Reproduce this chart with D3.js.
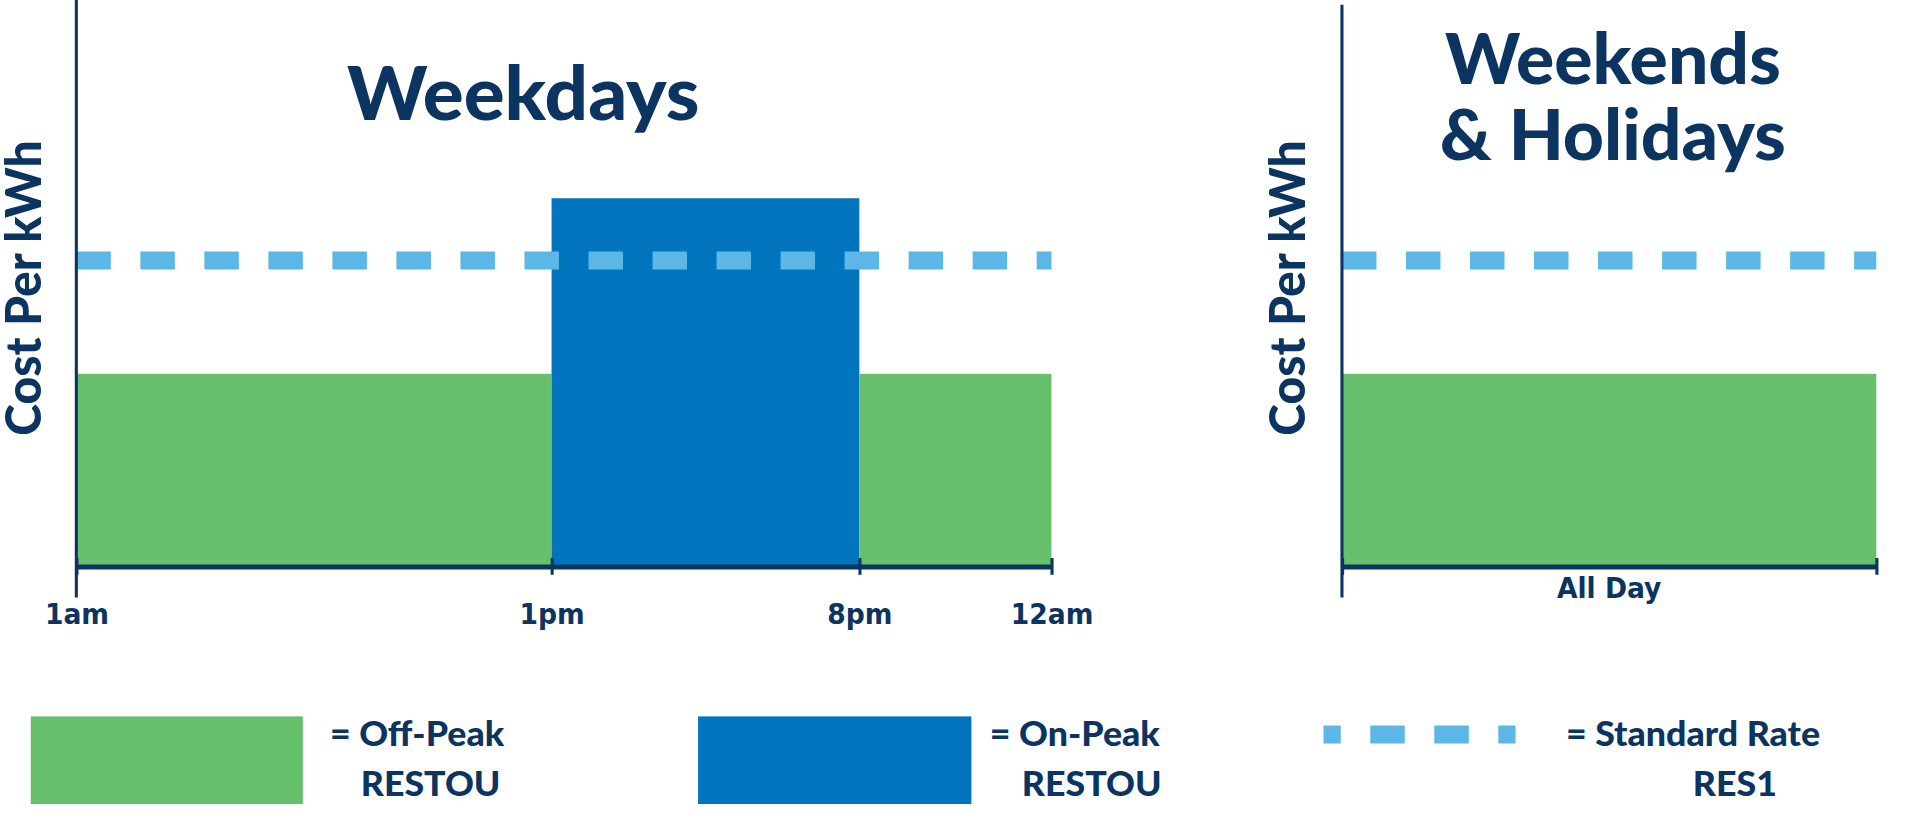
<!DOCTYPE html><html><head><meta charset="utf-8">
<script src="https://cdn.jsdelivr.net/npm/d3@7"></script>
<style>body{margin:0;background:#fff}</style></head><body>
<script>
const hours=[1,13,20,24];
const tickLabels=["1am","1pm","8pm","12am"];
const weekdayBlocks=[{from:1,to:13,type:"off"},{from:13,to:20,type:"on"},{from:20,to:24,type:"off"}];
const rates={off:0.34,on:0.65,standard:0.54};
const weekendLabel="All Day";
const legendItems=[["= Off-Peak","RESTOU"],["= On-Peak","RESTOU"],["= Standard Rate","RES1"]];

const navy="#0b3461",green="#66bf6a",blue="#0075bd",light="#5cb7e6";
const kx=1928/1566, ky=828/690;
const svg=d3.select("body").append("svg").attr("width",1928).attr("height",828);
const g=svg.append("g").attr("transform",`scale(${kx},${ky})`);
const base=472;
const y=d3.scaleLinear().domain([0,1]).range([base,0]);
const x=d3.scaleLinear().domain(hours).range([62,448,698,854]);
const x2=d3.scaleLinear().domain([0,1]).range([1090,1524]);
const font="Lato, 'Open Sans', sans-serif";
const narrow="'Liberation Sans Narrow','DejaVu Sans Condensed',sans-serif";

g.selectAll("rect.wd").data(weekdayBlocks).join("rect")
 .attr("x",d=>x(d.from)).attr("width",d=>x(d.to)-x(d.from))
 .attr("y",d=>y(rates[d.type])).attr("height",d=>base-y(rates[d.type]))
 .attr("fill",d=>d.type==="on"?blue:green);
g.append("rect").attr("x",x2(0)).attr("width",x2(1)-x2(0)).attr("y",y(rates.off)).attr("height",base-y(rates.off)).attr("fill",green);

function dash(x0,x1){g.append("line").attr("x1",x0).attr("x2",x1).attr("y1",y(rates.standard)).attr("y2",y(rates.standard))
 .attr("stroke",light).attr("stroke-width",15).attr("stroke-dasharray","28 24");}
dash(x(1),x(24)); dash(x2(0),x2(1));

g.append("g").attr("transform",`translate(0,${base})`).call(d3.axisBottom(x).tickValues(hours).tickFormat((d,i)=>tickLabels[i]).tickSize(14).tickSizeOuter(0))
 .call(a=>{a.select(".domain").attr("stroke",navy).attr("stroke-width",4);
  a.selectAll(".tick line").attr("stroke",navy).attr("stroke-width",2.5).attr("transform","translate(0,-7)");
  a.selectAll("text").attr("fill",navy).attr("font-family",narrow).attr("font-weight",700).attr("font-size",24).attr("dy","1.3em");});
g.append("line").attr("x1",62).attr("x2",62).attr("y1",0).attr("y2",base+26).attr("stroke",navy).attr("stroke-width",2.5);
g.append("g").attr("transform",`translate(0,${base})`).call(d3.axisBottom(x2).tickValues([0,1]).tickFormat("").tickSize(14).tickSizeOuter(0))
 .call(a=>{a.select(".domain").attr("stroke",navy).attr("stroke-width",4);
  a.selectAll(".tick line").attr("stroke",navy).attr("stroke-width",2.5).attr("transform","translate(0,-7)");});
g.append("line").attr("x1",1090).attr("x2",1090).attr("y1",4).attr("y2",base+26).attr("stroke",navy).attr("stroke-width",2.5);
g.append("text").attr("x",x2(0.5)).attr("y",498).attr("text-anchor","middle").attr("fill",navy).attr("font-family",narrow).attr("font-weight",700).attr("font-size",24).text(weekendLabel);

const t=(tx,ty,s,txt)=>g.append("text").attr("x",tx).attr("y",ty).attr("text-anchor","middle").attr("fill",navy).attr("font-family",font).attr("font-weight",900).attr("font-size",s).text(txt);
t(425,100,62,"Weekdays");
t(1310,70,58,"Weekends");
t(1310,133,58,"& Holidays");
[33,1060].forEach(cx=>g.append("text").attr("transform",`translate(${cx},240) rotate(-90)`).attr("text-anchor","middle")
 .attr("fill",navy).attr("font-family",font).attr("font-weight",900).attr("font-size",40).text("Cost Per kWh"));

g.append("rect").attr("x",25).attr("y",597).attr("width",221).attr("height",73).attr("fill",green);
g.append("rect").attr("x",567).attr("y",597).attr("width",222).attr("height",73).attr("fill",blue);
g.append("line").attr("x1",1075).attr("x2",1235).attr("y1",612).attr("y2",612).attr("stroke",light).attr("stroke-width",15).attr("stroke-dasharray","14 24 28 24 28 24");
const leg=[[268,293,legendItems[0]],[804,830,legendItems[1]],[1272,1375,legendItems[2]]];
leg.forEach(([x1,xb,[a,b]])=>{
 g.append("text").attr("x",x1).attr("y",622).attr("fill",navy).attr("font-family",font).attr("font-weight",900).attr("font-size",29).text(a);
 g.append("text").attr("x",xb).attr("y",663).attr("fill",navy).attr("font-family",font).attr("font-weight",900).attr("font-size",29).text(b);
});
</script></body></html>
